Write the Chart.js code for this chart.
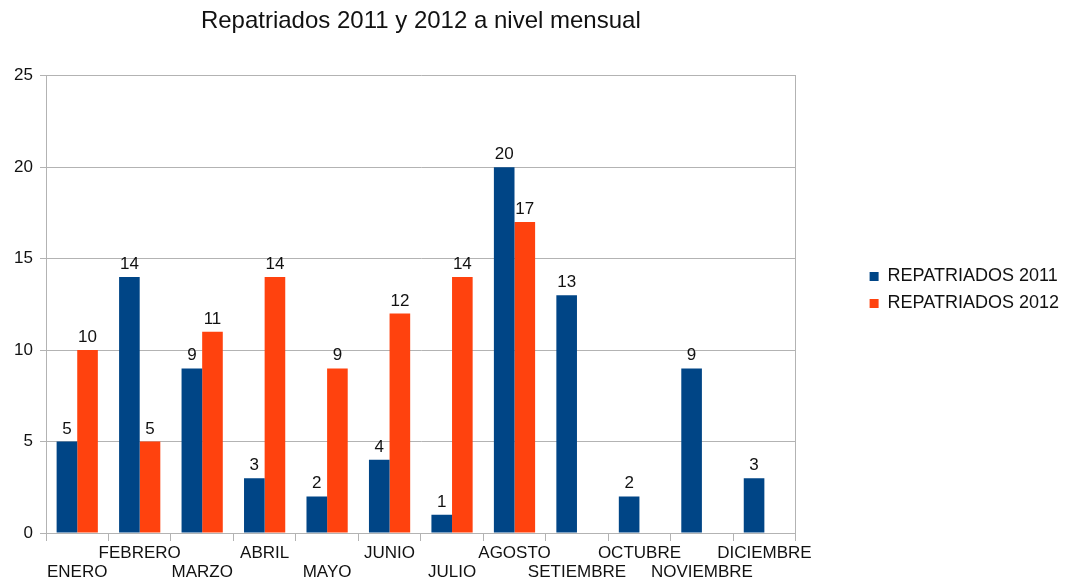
<!DOCTYPE html>
<html>
<head>
<meta charset="utf-8">
<title>Repatriados 2011 y 2012</title>
<script src="https://cdn.jsdelivr.net/npm/chart.js@4/dist/chart.umd.min.js"></script>
<style>
  body { margin: 0; background: #fff; }
  canvas { display: block; }
</style>
</head>
<body>
<canvas id="repatriados" width="1069" height="580"></canvas>
<script>
// meses (las etiquetas van alternadas en dos filas como en el original)
const meses = ['ENERO', 'FEBRERO', 'MARZO', 'ABRIL', 'MAYO', 'JUNIO', 'JULIO',
  'AGOSTO', 'SETIEMBRE', 'OCTUBRE', 'NOVIEMBRE', 'DICIEMBRE'];
const repatriados2011 = [5, 14, 9, 3, 2, 4, 1, 20, 13, 2, 9, 3];
const repatriados2012 = [10, 5, 11, 14, 9, 12, 14, 17, null, null, null, null];
const yTicks = [0, 5, 10, 15, 20, 25];

const fontFamily = '"Liberation Sans", Arial, sans-serif';
const gridColor = '#b3b3b3';

function etiquetaMes(nombre, i) {
    // pares abajo, impares arriba
    return i % 2 === 0 ? ['', nombre] : [nombre, ''];
}

// escribe el valor encima de cada barra
const valoresPlugin = {
    id: 'valores',
    afterDatasetsDraw(chart) {
        const ctx = chart.ctx;
        ctx.save();
        ctx.font = '17px ' + fontFamily;
        ctx.fillStyle = '#111';
        ctx.textAlign = 'center';
        ctx.textBaseline = 'alphabetic';
        chart.data.datasets.forEach((ds, di) => {
            const meta = chart.getDatasetMeta(di);
            meta.data.forEach((bar, i) => {
                const v = ds.data[i];
                if (v === null || v === undefined) return;
                ctx.fillText(String(v), bar.x, bar.y - 8);
            });
        });
        ctx.restore();
    }
};

new Chart(document.getElementById('repatriados'), {
    type: 'bar',
    data: {
        labels: meses.map(etiquetaMes),
        datasets: [
            {
                label: 'REPATRIADOS 2011',
                data: repatriados2011,
                backgroundColor: '#004586',
                yAxisID: 'y'
            },
            {
                label: 'REPATRIADOS 2012',
                data: repatriados2012,
                backgroundColor: '#ff420e',
                yAxisID: 'y'
            }
        ]
    },
    options: {
        responsive: false,
        animation: false,
        layout: { padding: 0 },
        datasets: {
            bar: { categoryPercentage: 0.66, barPercentage: 1.0 }
        },
        scales: {
            x: {
                offset: true,
                grid: {
                    display: true,
                    offset: true,
                    drawOnChartArea: false,
                    drawTicks: true,
                    tickLength: 8,
                    color: gridColor
                },
                border: { display: true, color: gridColor },
                ticks: {
                    autoSkip: false,
                    maxRotation: 0,
                    minRotation: 0,
                    padding: 3,
                    color: '#111',
                    font: { family: fontFamily, size: 17, lineHeight: '19px' }
                },
                afterFit(scale) { scale.height = 47; }
            },
            y: {
                min: 0,
                max: 25,
                afterBuildTicks(scale) {
                    scale.ticks = yTicks.map(v => ({ value: v }));
                },
                grid: { color: gridColor, tickLength: 6 },
                border: { display: true, color: gridColor },
                ticks: {
                    padding: 7,
                    color: '#111',
                    font: { family: fontFamily, size: 17 }
                },
                afterFit(scale) { scale.width = 46; }
            },
            // eje vacio a la derecha: borde derecho del grafico y espacio antes de la leyenda
            borde: {
                type: 'linear',
                position: 'right',
                min: 0,
                max: 25,
                grid: { display: false },
                ticks: { display: false },
                border: { display: true, color: gridColor },
                afterFit(scale) { scale.width = 65; }
            }
        },
        plugins: {
            title: {
                display: true,
                text: 'Repatriados 2011 y 2012 a nivel mensual',
                fullSize: false,
                color: '#111',
                font: { family: fontFamily, size: 24, weight: 'normal', lineHeight: 1.2 },
                padding: { top: 7, bottom: 40 }
            },
            legend: {
                position: 'right',
                align: 'center',
                maxWidth: 320,
                labels: {
                    boxWidth: 9,
                    boxHeight: 9,
                    padding: 9,
                    color: '#111',
                    font: { family: fontFamily, size: 18 }
                }
            },
            tooltip: { enabled: false }
        }
    },
    plugins: [valoresPlugin]
});
</script>
</body>
</html>
